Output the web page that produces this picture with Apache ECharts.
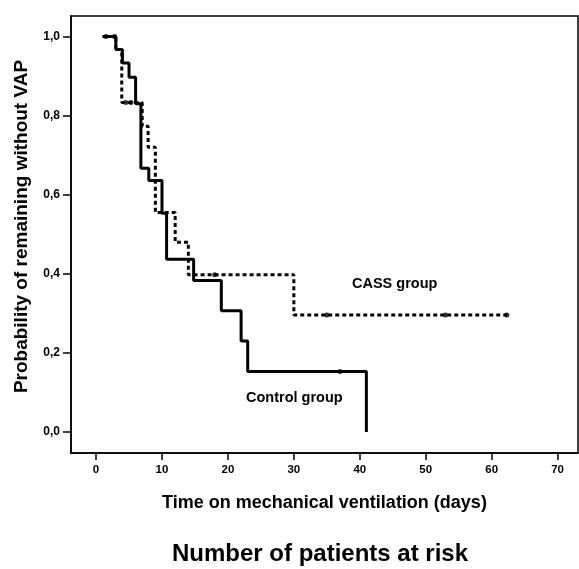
<!DOCTYPE html>
<html>
<head>
<meta charset="utf-8">
<script src="https://cdn.jsdelivr.net/npm/echarts@6/dist/echarts.min.js"></script>
<style>
html,body{margin:0;padding:0;background:#fff;}
#chart{width:579px;height:569px;}
</style>
</head>
<body>
<div id="chart"></div>
<script>
// Kaplan-Meier step data
const controlTimes = [1, 3, 4, 5, 6, 6.8, 8, 10, 10.7, 14.8, 19, 22, 23, 41];
const controlSurv  = [1, 0.967, 0.933, 0.897, 0.83, 0.667, 0.636, 0.553, 0.437, 0.383, 0.307, 0.23, 0.153, 0];
const cassTimes = [1, 3, 3.9, 7, 7.9, 9, 12, 14, 30, 62.3];
const cassSurv  = [1, 0.967, 0.833, 0.773, 0.72, 0.555, 0.48, 0.398, 0.296, 0.296];
// censored observations
const controlCensorTimes = [1.5, 2.8, 37];
const controlCensorSurv  = [1, 1, 0.153];
const cassCensorTimes = [4.5, 5.3, 18, 35, 53, 62.3];
const cassCensorSurv  = [0.833, 0.833, 0.398, 0.296, 0.296, 0.296];
// axis ticks
const xTicks = [0, 10, 20, 30, 40, 50, 60, 70];
const yTicks = [0, 0.2, 0.4, 0.6, 0.8, 1.0];

const zip = (a, b) => a.map((v, i) => [v, b[i]]);
const font = '"Liberation Sans", Arial, sans-serif';

const chart = echarts.init(document.getElementById('chart'));
chart.setOption({
  animation: false,
  backgroundColor: '#fff',
  grid: {left: 71, top: 16, right: 1, bottom: 116, show: true, borderColor: '#000', borderWidth: 1.5,
    containLabel: false, outerBoundsMode: 'none'},
  xAxis: {
    type: 'value', min: -3.8, max: 73.1,
    name: 'Time on mechanical ventilation (days)',
    nameLocation: 'middle', nameGap: 41, nameMoveOverlap: false,
    nameTextStyle: {fontFamily: font, fontSize: 18, fontWeight: 'bold', color: '#000'},
    axisLine: {show: true, onZero: false, lineStyle: {color: '#000', width: 1.5}},
    axisTick: {show: true, inside: false, customValues: xTicks, length: 7, lineStyle: {color: '#000', width: 1.5}},
    axisLabel: {customValues: xTicks, margin: 11, fontFamily: font, fontSize: 11.5, fontWeight: 'bold', color: '#000'},
    splitLine: {show: false}
  },
  yAxis: {
    type: 'value', min: -0.053, max: 1.052,
    name: 'Probability of remaining without VAP',
    nameLocation: 'middle', nameGap: 40, nameRotate: 90, nameMoveOverlap: false,
    nameTextStyle: {fontFamily: font, fontSize: 19, fontWeight: 'bold', color: '#000', padding: [0, 0, 0, 16]},
    axisLine: {show: true, onZero: false, lineStyle: {color: '#000', width: 1.5}},
    axisTick: {show: true, inside: false, customValues: yTicks, length: 8, lineStyle: {color: '#000', width: 1.5}},
    axisLabel: {customValues: yTicks, margin: 11, fontFamily: font, fontSize: 12, fontWeight: 'bold', color: '#000',
      formatter: v => v.toFixed(1).replace('.', ',')},
    splitLine: {show: false}
  },
  series: [
    {
      name: 'CASS group', type: 'line', step: 'end', showSymbol: false,
      data: zip(cassTimes, cassSurv),
      lineStyle: {color: '#000', width: 3, type: [4, 3]}
    },
    {
      name: 'Control group', type: 'line', step: 'end', showSymbol: false,
      data: zip(controlTimes, controlSurv),
      lineStyle: {color: '#000', width: 3, type: 'solid'}
    },
    {
      type: 'scatter', data: zip(cassCensorTimes, cassCensorSurv),
      symbol: 'circle', symbolSize: 5, itemStyle: {color: '#000'}
    },
    {
      type: 'scatter', data: zip(controlCensorTimes, controlCensorSurv),
      symbol: 'circle', symbolSize: 5, itemStyle: {color: '#000'}
    }
  ],
  graphic: [
    {type: 'text', x: 352, y: 284, style: {text: 'CASS group', fontFamily: font, fontSize: 14.5, fontWeight: 'bold', fill: '#000', verticalAlign: 'middle'}},
    {type: 'text', x: 246, y: 398, style: {text: 'Control group', fontFamily: font, fontSize: 14.5, fontWeight: 'bold', fill: '#000', verticalAlign: 'middle'}},
    {type: 'text', x: 320, y: 554, style: {text: 'Number of patients at risk', fontFamily: font, fontSize: 24, fontWeight: 'bold', fill: '#000', align: 'center', verticalAlign: 'middle'}}
  ]
});
</script>
</body>
</html>
